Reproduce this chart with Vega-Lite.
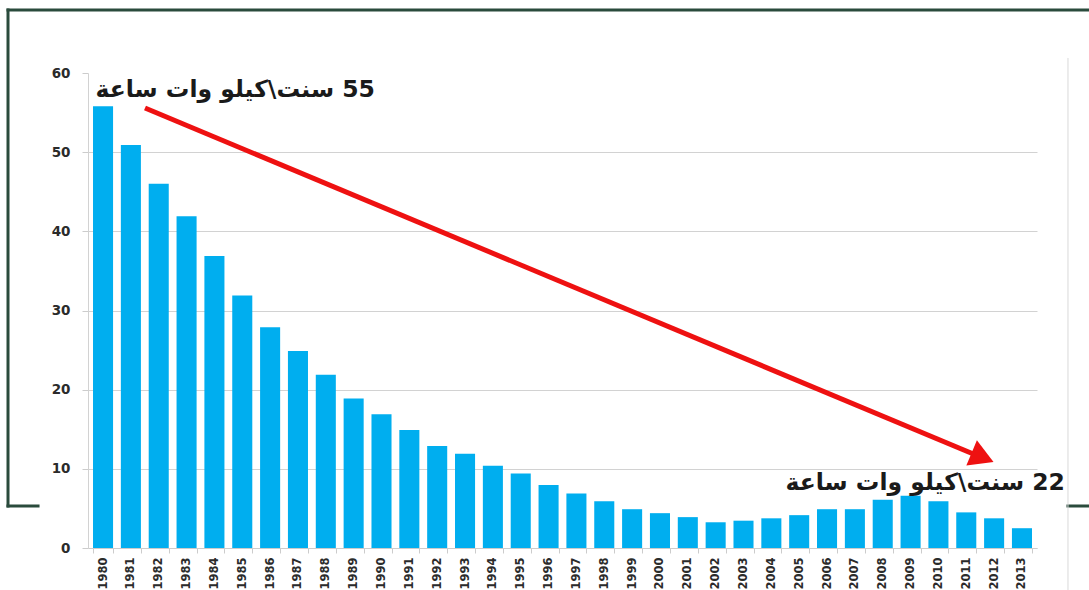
{
  "$schema": "https://vega.github.io/schema/vega-lite/v6.json",
  "width": 949,
  "height": 475,
  "autosize": {"type": "none"},
  "padding": {"left": 88, "top": 73, "right": 52, "bottom": 42},
  "background": "white",
  "config": {"view": {"stroke": null}},
  "resolve": {"scale": {"x": "independent"}},
  "layer": [
    {
      "description": "Electricity price per year",
      "data": {
        "values": [
          {"year": "1980", "price": 55.8},
          {"year": "1981", "price": 50.9},
          {"year": "1982", "price": 46},
          {"year": "1983", "price": 41.9},
          {"year": "1984", "price": 36.9},
          {"year": "1985", "price": 31.9},
          {"year": "1986", "price": 27.9},
          {"year": "1987", "price": 24.9},
          {"year": "1988", "price": 21.9},
          {"year": "1989", "price": 18.9},
          {"year": "1990", "price": 16.9},
          {"year": "1991", "price": 14.9},
          {"year": "1992", "price": 12.9},
          {"year": "1993", "price": 11.9},
          {"year": "1994", "price": 10.4},
          {"year": "1995", "price": 9.4},
          {"year": "1996", "price": 7.95},
          {"year": "1997", "price": 6.9},
          {"year": "1998", "price": 5.9},
          {"year": "1999", "price": 4.9},
          {"year": "2000", "price": 4.4},
          {"year": "2001", "price": 3.9},
          {"year": "2002", "price": 3.25},
          {"year": "2003", "price": 3.45},
          {"year": "2004", "price": 3.75},
          {"year": "2005", "price": 4.15},
          {"year": "2006", "price": 4.9},
          {"year": "2007", "price": 4.9},
          {"year": "2008", "price": 6.1},
          {"year": "2009", "price": 6.6},
          {"year": "2010", "price": 5.9},
          {"year": "2011", "price": 4.5},
          {"year": "2012", "price": 3.75},
          {"year": "2013", "price": 2.5}
        ]
      },
      "mark": {"type": "bar", "color": "#00aeef"},
      "encoding": {
        "x": {
          "field": "year",
          "type": "ordinal",
          "scale": {"paddingInner": 0.28, "paddingOuter": 0.18},
          "axis": {
            "title": null,
            "labelAngle": 270,
            "labelAlign": "right",
            "labelBaseline": "middle",
            "labelFont": "DejaVu Sans",
            "labelFontWeight": "bold",
            "labelFontSize": 11.5,
            "labelColor": "#2b2b2b",
            "labelPadding": 4,
            "tickBand": "extent",
            "tickSize": 5,
            "tickColor": "#cccccc",
            "domainColor": "#cccccc"
          }
        },
        "y": {
          "field": "price",
          "type": "quantitative",
          "scale": {"domain": [0, 60], "nice": false},
          "axis": {
            "title": null,
            "orient": "left",
            "values": [0, 10, 20, 30, 40, 50, 60],
            "grid": true,
            "gridColor": "#d2d2d2",
            "gridOpacity": {"condition": {"test": "datum.value === 60", "value": 0}, "value": 1},
            "domainColor": "#d2d2d2",
            "tickColor": "#cccccc",
            "tickSize": 6,
            "labelFont": "DejaVu Sans",
            "labelFontWeight": "bold",
            "labelFontSize": 13.5,
            "labelColor": "#2b2b2b",
            "labelPadding": 12
          }
        }
      }
    },
    {
      "description": "Dark green frame: top edge",
      "data": {"values": [{}]},
      "mark": {"type": "rule", "color": "#2a4b3c", "strokeWidth": 3, "strokeCap": "square"},
      "encoding": {
        "x": {"datum": -2.866, "type": "quantitative", "scale": {"domain": [0, 34], "nice": false, "zero": false}, "axis": null},
        "x2": {"datum": 36.5},
        "y": {"datum": 67.96, "type": "quantitative"},
        "y2": {"datum": 67.96}
      }
    },
    {
      "description": "Dark green frame: left edge",
      "data": {"values": [{}]},
      "mark": {"type": "rule", "color": "#2a4b3c", "strokeWidth": 3, "strokeCap": "square"},
      "encoding": {
        "x": {"datum": -2.866, "type": "quantitative", "scale": {"domain": [0, 34], "nice": false, "zero": false}, "axis": null},
        "y": {"datum": 67.96, "type": "quantitative"},
        "y2": {"datum": 5.305}
      }
    },
    {
      "description": "Dark green frame: bottom edge, left piece",
      "data": {"values": [{}]},
      "mark": {"type": "rule", "color": "#2a4b3c", "strokeWidth": 3, "strokeCap": "square"},
      "encoding": {
        "x": {"datum": -2.866, "type": "quantitative", "scale": {"domain": [0, 34], "nice": false, "zero": false}, "axis": null},
        "x2": {"datum": -1.79},
        "y": {"datum": 5.305, "type": "quantitative"},
        "y2": {"datum": 5.305}
      }
    },
    {
      "description": "Dark green frame: bottom edge, right piece",
      "data": {"values": [{}]},
      "mark": {"type": "rule", "color": "#2a4b3c", "strokeWidth": 3, "strokeCap": "square"},
      "encoding": {
        "x": {"datum": 35.11, "type": "quantitative", "scale": {"domain": [0, 34], "nice": false, "zero": false}, "axis": null},
        "x2": {"datum": 36.5},
        "y": {"datum": 5.305, "type": "quantitative"},
        "y2": {"datum": 5.305}
      }
    },
    {
      "description": "Light grey right edge of the chart panel",
      "data": {"values": [{}]},
      "mark": {"type": "rule", "color": "#d9d9d9", "strokeWidth": 1},
      "encoding": {
        "x": {"datum": 35.11, "type": "quantitative", "scale": {"domain": [0, 34], "nice": false, "zero": false}, "axis": null},
        "y": {"datum": 61.9, "type": "quantitative"},
        "y2": {"datum": -6.6}
      }
    },
    {
      "description": "Red trend arrow: shaft",
      "data": {"values": [{}]},
      "mark": {"type": "rule", "color": "#ee1111", "strokeWidth": 5},
      "encoding": {
        "x": {"datum": 2.042, "type": "quantitative", "scale": {"domain": [0, 34], "nice": false, "zero": false}, "axis": null},
        "x2": {"datum": 32.0},
        "y": {"datum": 55.58, "type": "quantitative"},
        "y2": {"datum": 11.46}
      }
    },
    {
      "description": "Red trend arrow: head",
      "data": {"values": [{}]},
      "mark": {"type": "point", "shape": "triangle-right", "filled": true, "color": "#ee1111", "opacity": 1, "size": 750, "angle": 22.66, "strokeWidth": 0},
      "encoding": {
        "x": {"datum": 32.05, "type": "quantitative", "scale": {"domain": [0, 34], "nice": false, "zero": false}, "axis": null},
        "y": {"datum": 11.45, "type": "quantitative"}
      }
    },
    {
      "description": "Price callout, 1980",
      "data": {"values": [{"label": "سنت\\كيلو وات ساعة\u200e 55"}]},
      "mark": {"type": "text", "font": "DejaVu Sans", "fontWeight": "bold", "fontSize": 23.5, "color": "#1a1a1a", "align": "right", "baseline": "middle"},
      "encoding": {
        "text": {"field": "label"},
        "x": {"datum": 10.28, "type": "quantitative", "scale": {"domain": [0, 34], "nice": false, "zero": false}, "axis": null},
        "y": {"datum": 57.8, "type": "quantitative"}
      }
    },
    {
      "description": "Price callout, 2013",
      "data": {"values": [{"label": "سنت\\كيلو وات ساعة\u200e 22"}]},
      "mark": {"type": "text", "font": "DejaVu Sans", "fontWeight": "bold", "fontSize": 23.5, "color": "#1a1a1a", "align": "right", "baseline": "middle"},
      "encoding": {
        "text": {"field": "label"},
        "x": {"datum": 35.0, "type": "quantitative", "scale": {"domain": [0, 34], "nice": false, "zero": false}, "axis": null},
        "y": {"datum": 8.2, "type": "quantitative"}
      }
    }
  ]
}
